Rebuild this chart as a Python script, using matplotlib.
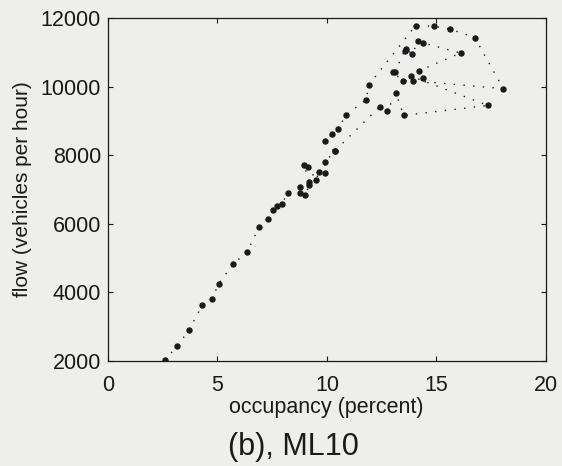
import matplotlib
matplotlib.use('Agg')
import matplotlib.pyplot as plt

# occupancy (percent) / flow (veh/h), in time order
occupancy = [2.6, 3.15, 3.7, 4.3, 4.75, 5.05, 5.7, 6.35, 6.9, 7.3,
             7.55, 7.7, 7.95, 8.2, 8.75, 8.75, 9.0, 9.2, 9.2, 8.95,
             9.15, 9.5, 9.65, 9.9, 9.9, 10.35, 9.9, 10.25, 10.5, 10.85,
             11.8, 11.9, 14.05, 14.9, 15.6, 16.75, 18.05, 13.95, 13.45, 13.0,
             13.1, 13.55, 13.6, 13.9, 14.15, 14.4, 16.1, 14.2, 14.4, 13.85,
             17.35, 13.5, 13.15, 12.75, 12.4, 10.35]
flow = [2020, 2430, 2900, 3620, 3810, 4240, 4820, 5170, 5900, 6140,
        6400, 6530, 6570, 6910, 7080, 6890, 6840, 7130, 7230, 7700,
        7650, 7280, 7520, 7470, 7790, 8120, 8410, 8620, 8750, 9160,
        9620, 10040, 11780, 11760, 11680, 11430, 9940, 10170, 10170, 10430,
        10430, 11050, 11090, 10950, 11320, 11270, 10980, 10460, 10240, 10300,
        9450, 9160, 9810, 9280, 9410, 8120]

xticks = [0, 5, 10, 15, 20]
yticks = [2000, 4000, 6000, 8000, 10000, 12000]

bg = '#eeeeec'
ink = '#1a1a1a'
plt.rcParams['font.family'] = ['Liberation Sans', 'DejaVu Sans']

fig = plt.figure(figsize=(5.62, 4.66), dpi=100, facecolor=bg)
ax = fig.add_axes([0.192, 0.2253, 0.7795, 0.7361])
ax.set_facecolor(bg)

ax.plot(occupancy, flow, color=ink, lw=1.0, ls=(0, (1, 6)))
ax.plot(occupancy, flow, ls='none', marker='o', ms=3.6, color=ink)

ax.set_xlim(0, 20)
ax.set_ylim(2000, 12000)
ax.set_xticks(xticks)
ax.set_yticks(yticks)
ax.tick_params(direction='in', top=True, right=True, length=3.5, width=0.8,
               colors=ink, labelsize=15.5)
ax.tick_params(axis='x', pad=10)
ax.tick_params(axis='y', pad=5)
for s in ax.spines.values():
    s.set_color(ink)
    s.set_linewidth(0.9)

ax.set_ylabel('flow (vehicles per hour)', fontsize=15, color=ink, labelpad=6)
fig.text(0.58, 1 - 413 / 466, 'occupancy (percent)', fontsize=15.5, color=ink,
         ha='center', va='baseline')
fig.text(228 / 562, 1 - 455 / 466, '(b), ML10', fontsize=22, color=ink,
         ha='left', va='baseline')

fig.savefig('out.png', dpi=100, facecolor=bg)
